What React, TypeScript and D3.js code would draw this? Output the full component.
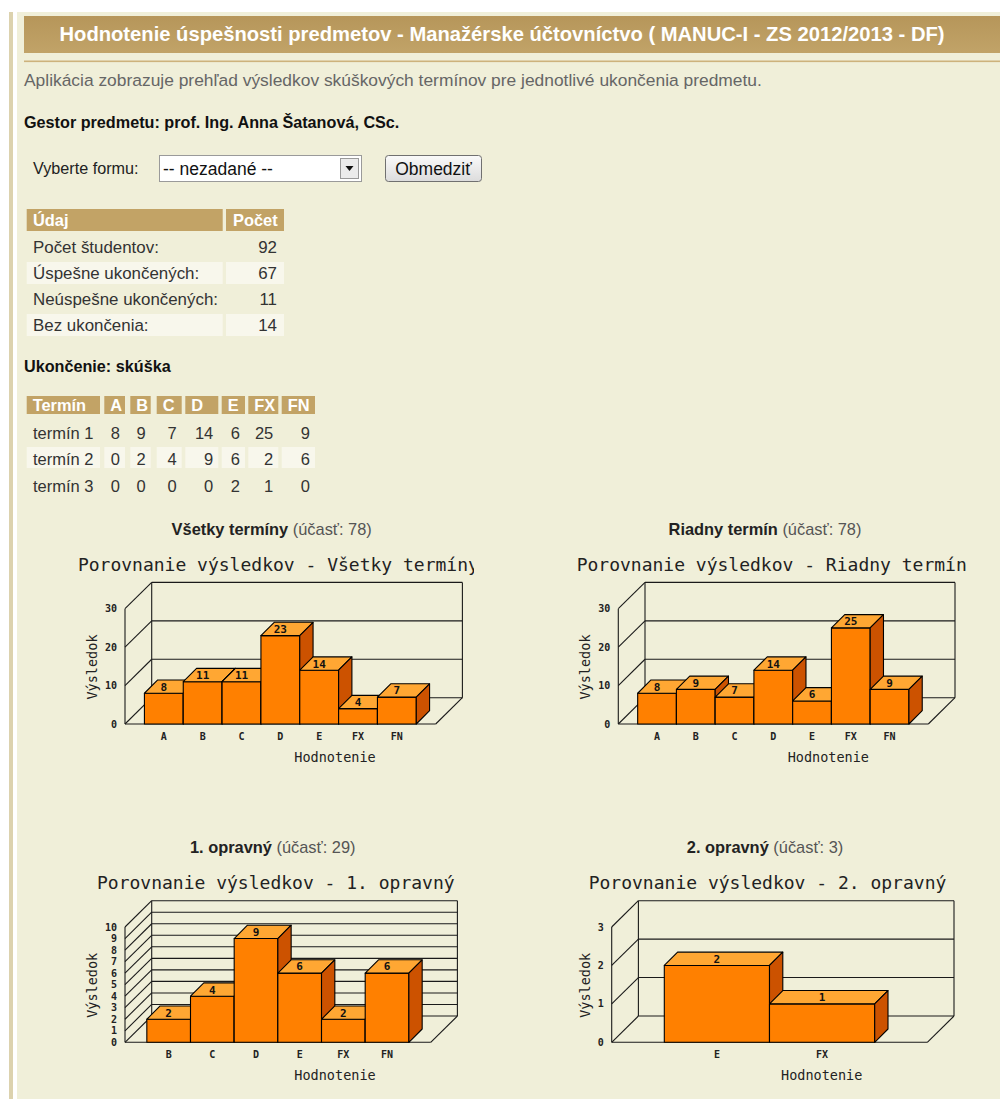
import React from "react";
import * as d3 from "d3";

// --- data read from the page ---
const summaryLabels = ["Počet študentov:", "Úspešne ukončených:", "Neúspešne ukončených:", "Bez ukončenia:"];
const summaryValues = [92, 67, 11, 14];

const termHeaders = ["Termín", "A", "B", "C", "D", "E", "FX", "FN"];
const termNames = ["termín 1", "termín 2", "termín 3"];
const term1 = [8, 9, 7, 14, 6, 25, 9];
const term2 = [0, 2, 4, 9, 6, 2, 6];
const term3 = [0, 0, 0, 0, 2, 1, 0];

const gradesAll = ["A", "B", "C", "D", "E", "FX", "FN"];
const valuesAll = [8, 11, 11, 23, 14, 4, 7];
const valuesRegular = [8, 9, 7, 14, 6, 25, 9];
const gradesRetake1 = ["B", "C", "D", "E", "FX", "FN"];
const valuesRetake1 = [2, 4, 9, 6, 2, 6];
const gradesRetake2 = ["E", "FX"];
const valuesRetake2 = [2, 1];

const BG = "#f0efd9";
const TAN = "#c2a366";
const SANS = "Arial, 'Liberation Sans', sans-serif";
const MONO = "'DejaVu Sans Mono', 'Liberation Mono', monospace";

type ChartProps = {
  id: string;
  cats: string[];
  values: number[];
  yMax: number;
  tickStep: number;
  x0: number;
  x1: number;
  y0: number;
  subBold: string;
  subRest: string;
  subX: number;
  title: string;
  titleX: number;
  yLabelX: number;
  clipRight?: number;
};

const Chart3D = (p: ChartProps) => {
  const dx = 26.7, dy = 26.3, bd = 13.3;
  const x = d3.scaleBand<string>().domain(p.cats).range([p.x0, p.x1]).paddingInner(0).paddingOuter(0.5);
  const y = d3.scaleLinear().domain([0, p.yMax]).range([p.y0, p.y0 - 115.3]);
  const ticks = d3.range(0, p.yMax + 0.001, p.tickStep);
  const bw = x.bandwidth();
  const line = "#1a1a1a";

  return (
    <g>
      <text x={p.subX} y={p.y0 - 189} textAnchor="middle" fontFamily={SANS} fontSize={16.4}>
        <tspan fontWeight="bold" fill="#222">{p.subBold}</tspan>
        <tspan fill="#555">{" " + p.subRest}</tspan>
      </text>
      {p.clipRight && (
        <clipPath id={p.id}>
          <rect x={0} y={p.y0 - 180} width={p.clipRight} height={40} />
        </clipPath>
      )}
      <text x={p.titleX} y={p.y0 - 153} textAnchor="middle" fontFamily={MONO} fontSize={18} fill="#222"
        clipPath={p.clipRight ? `url(#${p.id})` : undefined}>{p.title}</text>

      {/* walls */}
      <g stroke={line} strokeWidth={1.1} fill="none">
        {ticks.map(t => (
          <g key={t}>
            <line x1={p.x0} y1={y(t)} x2={p.x0 + dx} y2={y(t) - dy} />
            <line x1={p.x0 + dx} y1={y(t) - dy} x2={p.x1 + dx} y2={y(t) - dy} />
          </g>
        ))}
        <line x1={p.x0} y1={p.y0} x2={p.x0} y2={y(p.yMax)} />
        <line x1={p.x0 + dx} y1={p.y0 - dy} x2={p.x0 + dx} y2={y(p.yMax) - dy} />
        <line x1={p.x1 + dx} y1={p.y0 - dy} x2={p.x1 + dx} y2={y(p.yMax) - dy} />
        <line x1={p.x0} y1={p.y0} x2={p.x1} y2={p.y0} />
        <line x1={p.x1} y1={p.y0} x2={p.x1 + dx} y2={p.y0 - dy} />
      </g>
      {ticks.map(t => (
        <text key={t} x={p.x0 - 8} y={y(t) + 3.5} textAnchor="end" fontFamily={MONO} fontWeight="bold"
          fontSize={10} fill="#222">{t}</text>
      ))}

      {/* bars */}
      {p.cats.map((c, i) => {
        const xl = x(c)!, xr = xl + bw, yt = y(p.values[i]);
        return (
          <g key={c} stroke="#000" strokeWidth={1.1} strokeLinejoin="round">
            <rect x={xl} y={yt} width={bw} height={p.y0 - yt} fill="#ff8000" />
            <polygon points={`${xl},${yt} ${xr},${yt} ${xr + bd},${yt - bd} ${xl + bd},${yt - bd}`} fill="#ffa733" />
            <polygon points={`${xr},${yt} ${xr + bd},${yt - bd} ${xr + bd},${p.y0 - bd} ${xr},${p.y0}`} fill="#cc5200" />
            <text x={xl + bw / 2} y={yt - bd / 2 + 4} textAnchor="middle" fontFamily={MONO} fontWeight="bold"
              fontSize={11} fill="#111" stroke="none">{p.values[i]}</text>
          </g>
        );
      })}
      {p.cats.map(c => (
        <text key={c} x={x(c)! + bw / 2} y={p.y0 + 15.5} textAnchor="middle" fontFamily={MONO}
          fontWeight="bold" fontSize={10} fill="#222">{c}</text>
      ))}
      <text x={p.x0 + 210} y={p.y0 + 37.5} textAnchor="middle" fontFamily={MONO} fontSize={13.5} fill="#222">Hodnotenie</text>
      <text transform={`translate(${p.yLabelX},${p.y0 - 57}) rotate(-90)`} textAnchor="middle" dy={5}
        fontFamily={MONO} fontSize={13.5} fill="#222">Výsledok</text>
    </g>
  );
};

const App: React.FC = () => {
  const rowBg = "#f8f7ec";
  const t1Y = 209;
  const cols2 = [[26.7, 100], [104.3, 125], [130.3, 150.7], [156.7, 181.7], [185.3, 218.3], [221.7, 245], [248.3, 278.3], [281.7, 315]];
  const termRows = [term1, term2, term3];

  return (
    <svg width={1000} height={1099} style={{ position: "absolute", left: 0, top: 0 }} fontFamily={SANS}>
      <defs>
        <linearGradient id="hdr" x1="0" y1="0" x2="0" y2="1">
          <stop offset="0" stopColor="#b6965a" />
          <stop offset="1" stopColor="#c1a368" />
        </linearGradient>
        <linearGradient id="btn" x1="0" y1="0" x2="0" y2="1">
          <stop offset="0" stopColor="#fafafa" />
          <stop offset="1" stopColor="#dcdcdc" />
        </linearGradient>
      </defs>
      <rect width={1000} height={1099} fill="#fff" />
      <rect x={9} y={12} width={4} height={1087} fill="#dcd2ae" />
      <rect x={17} y={12} width={983} height={1087} fill={BG} />
      <rect x={24} y={16} width={976} height={37} fill="url(#hdr)" />
      <text x={502} y={41} textAnchor="middle" fill="#fff" fontWeight="bold" fontSize={20.2}>
        Hodnotenie úspešnosti predmetov - Manažérske účtovníctvo ( MANUC-I - ZS 2012/2013 - DF)
      </text>
      <rect x={24} y={60.5} width={976} height={1.6} fill="#cdb27c" />
      <text x={24} y={86} fill="#666" fontSize={17.4}>Aplikácia zobrazuje prehľad výsledkov skúškových termínov pre jednotlivé ukončenia predmetu.</text>
      <text x={24} y={127.5} fill="#111" fontWeight="bold" fontSize={16.2}>Gestor predmetu: prof. Ing. Anna Šatanová, CSc.</text>

      {/* form */}
      <text x={33} y={173.5} fill="#222" fontSize={16.2}>Vyberte formu:</text>
      <rect x={159.5} y={155.5} width={202} height={26} fill="#fff" stroke="#9a9a9a" />
      <text x={163} y={175} fill="#111" fontSize={17.5}>-- nezadané --</text>
      <rect x={340.5} y={158.5} width={18} height={20} fill="#ececec" stroke="#9a9a9a" />
      <polygon points="345.5,166 353.5,166 349.5,171" fill="#111" />
      <rect x={385.5} y={155.5} width={96} height={26} rx={3} fill="url(#btn)" stroke="#707070" />
      <text x={433.5} y={175} textAnchor="middle" fill="#111" fontSize={17.5}>Obmedziť</text>

      {/* summary table */}
      <rect x={26.7} y={t1Y} width={196} height={22} fill={TAN} />
      <rect x={226} y={t1Y} width={58} height={22} fill={TAN} />
      <text x={33} y={t1Y + 17} fill="#fff" fontWeight="bold" fontSize={16.4}>Údaj</text>
      <text x={233} y={t1Y + 17} fill="#fff" fontWeight="bold" fontSize={16.4}>Počet</text>
      {summaryLabels.map((l, i) => {
        const ry = 236 + i * 26;
        return (
          <g key={l}>
            {i % 2 === 1 && <rect x={26.7} y={ry} width={196} height={22} fill={rowBg} />}
            {i % 2 === 1 && <rect x={226} y={ry} width={58} height={22} fill={rowBg} />}
            <text x={33} y={ry + 17} fill="#333" fontSize={16.9}>{l}</text>
            <text x={277} y={ry + 17} textAnchor="end" fill="#333" fontSize={16.9}>{summaryValues[i]}</text>
          </g>
        );
      })}

      <text x={24} y={372} fill="#111" fontWeight="bold" fontSize={16.2}>Ukončenie: skúška</text>

      {/* term table */}
      {cols2.map(([a, b], j) => (
        <g key={j}>
          <rect x={a} y={396} width={b - a} height={18} fill={TAN} />
          <text x={a + 6} y={411} fill="#fff" fontWeight="bold" fontSize={16.4}>{termHeaders[j]}</text>
          <rect x={a} y={447} width={b - a} height={21} fill={rowBg} />
        </g>
      ))}
      {termNames.map((n, r) => {
        const by = 438.5 + r * 26.5;
        return (
          <g key={n}>
            <text x={33} y={by} fill="#333" fontSize={16.5}>{n}</text>
            {termRows[r].map((v, j) => (
              <text key={j} x={cols2[j + 1][1] - 5} y={by} textAnchor="end" fill="#333" fontSize={16.5}>{v}</text>
            ))}
          </g>
        );
      })}

      <Chart3D id="c1" cats={gradesAll} values={valuesAll} yMax={30} tickStep={10} x0={125} x1={435.7} y0={724}
        subBold="Všetky termíny" subRest="(účasť: 78)" subX={271.7}
        title="Porovnanie výsledkov - Všetky termíny" titleX={278.4} yLabelX={91.7} clipRight={474} />
      <Chart3D id="c2" cats={gradesAll} values={valuesRegular} yMax={30} tickStep={10} x0={618.3} x1={928.3} y0={724}
        subBold="Riadny termín" subRest="(účasť: 78)" subX={765}
        title="Porovnanie výsledkov - Riadny termín" titleX={771.7} yLabelX={585} />
      <Chart3D id="c3" cats={gradesRetake1} values={valuesRetake1} yMax={10} tickStep={1} x0={125} x1={430.7} y0={1042.3}
        subBold="1. opravný" subRest="(účasť: 29)" subX={272.7}
        title="Porovnanie výsledkov - 1. opravný" titleX={275.8} yLabelX={91.7} />
      <Chart3D id="c4" cats={gradesRetake2} values={valuesRetake2} yMax={3} tickStep={1} x0={611.7} x1={927.3} y0={1042.3}
        subBold="2. opravný" subRest="(účasť: 3)" subX={765}
        title="Porovnanie výsledkov - 2. opravný" titleX={767.5} yLabelX={585} />
    </svg>
  );
};

export default App;
